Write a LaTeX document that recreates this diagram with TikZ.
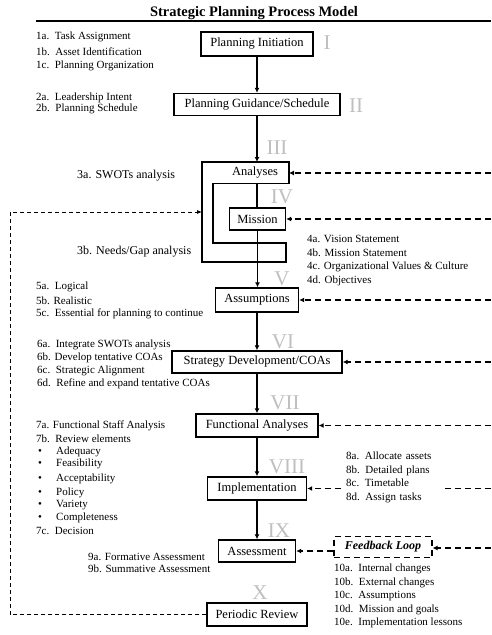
\documentclass[tikz,border=0pt]{standalone}
\usepackage{fontspec}
\setmainfont{Liberation Serif}
\usetikzlibrary{arrows.meta}
\begin{document}
\begin{tikzpicture}[x=1pt,y=-1pt,
 box/.style={draw,line width=1.4pt,minimum height=23pt,inner sep=0pt,font=\fontsize{12.5}{14}\selectfont},
 lst/.style={anchor=west,inner sep=0pt,font=\fontsize{11}{13}\selectfont},
 lstb/.style={anchor=west,inner sep=0pt,font=\fontsize{12}{14}\selectfont},
 roman/.style={text=black!25,font=\fontsize{21}{21}\selectfont,inner sep=0pt},
 arr/.style={line width=1.4pt,-{Latex[length=5pt,width=5pt]}},
 fbarr/.style={line width=1.2pt,dash pattern=on 6pt off 4pt,-{Latex[length=5pt,width=5pt]}},
 loopline/.style={line width=0.8pt,dash pattern=on 4pt off 3pt,-{Latex[length=5pt,width=4pt]}}]
\useasboundingbox (0,0) rectangle (491,635);

% title
\node[font=\fontsize{14.5}{16}\selectfont\bfseries] (title) at (254,13) {Strategic Planning Process Model};
\draw[line width=1.2pt] (36,21) -- (491,21);

% boxes
\node[box,minimum width=112pt,minimum height=24pt] (pi) at (257,44) {Planning Initiation};
\node[box,minimum width=166pt,minimum height=22pt] (pg) at (257,104.5) {Planning Guidance/Schedule};
\node[font=\fontsize{12.5}{14}\selectfont,inner sep=0pt] (ana) at (255,173) {Analyses};
\coordinate (anaN) at (257,162);
\coordinate (anaS) at (257,183.5);
\coordinate (anaE) at (289,173);
\coordinate (anaW) at (202,212);
\draw[line width=1.4pt] (202,162) -- (289,162) -- (289,183.5) -- (213,183.5) -- (213,243) -- (286,243) -- (286,262) -- (202,262) -- cycle;
\node[box,minimum width=56pt,minimum height=22pt] (mis) at (257.5,219) {Mission};
\node[box,minimum width=83pt,minimum height=24pt] (asm) at (257,300) {Assumptions};
\node[box,minimum width=170pt,minimum height=22pt] (sd) at (257,362) {Strategy Development/COAs};
\node[box,minimum width=122pt] (fa) at (257,425.5) {Functional Analyses};
\node[box,minimum width=99pt] (imp) at (257,488.5) {Implementation};
\node[box,minimum width=77pt,minimum height=22pt] (ass) at (257,551) {Assessment};
\node[box,minimum width=100pt] (pr) at (257,614.5) {Periodic Review};
\node[draw,line width=1.2pt,dash pattern=on 6pt off 4pt,minimum width=98pt,minimum height=21pt,inner sep=0pt,
  font=\fontsize{12}{14}\selectfont\bfseries\itshape] (fb) at (383,547) {Feedback Loop};

% main flow
\draw[arr] (pi.south) -- (pg.north);
\draw[arr] (pg.south) -- (anaN);
\draw[line width=1.4pt] (anaS) -- (anaS |- mis.north);
\draw[arr] (mis.south) -- (mis.south |- asm.north);
\draw[arr] (asm.south) -- (sd.north);
\draw[arr] (sd.south) -- (fa.north);
\draw[arr] (fa.south) -- (imp.north);
\draw[arr] (imp.south) -- (ass.north);

% right feedback arrows
\coordinate (r1) at (491,173);
\coordinate (r2) at (491,219);
\coordinate (r3) at (491,300);
\coordinate (r4) at (491,362);
\coordinate (r5) at (491,425.5);
\coordinate (r6) at (491,488.5);
\coordinate (r7) at (491,548);
\draw[fbarr] (r1) -- (anaE);
\draw[fbarr] (r2) -- (mis.east);
\draw[fbarr] (r3) -- (asm.east);
\draw[fbarr] (r4) -- (sd.east);
\draw[fbarr] (r5) -- (fa.east);
\draw[fbarr] (r6) -- (imp.east);
\draw[fbarr] (r7) -- (r7 -| fb.east);
\draw[fbarr] (fb.west |- ass.east) -- (ass.east);

% left return loop
\coordinate (lc1) at (10,614.5);
\coordinate (lc2) at (10,212);
\draw[loopline] (pr.west) -- (lc1) -- (lc2) -- (anaW);

% roman numerals
\node[roman] (n1) at (327,43) {I};
\node[roman] (n2) at (356,106) {II};
\node[roman] (n3) at (277,148) {III};
\node[roman] (n4) at (282,197) {IV};
\node[roman] (n5) at (282,279) {V};
\node[roman] (n6) at (283,342) {VI};
\node[roman] (n7) at (285,403) {VII};
\node[roman] (n8) at (287,467) {VIII};
\node[roman] (n9) at (279,531) {IX};
\node[roman] (n10) at (260,593) {X};

% lists
\node[lst] (t1a) at (36,37) {1a.~~Task Assignment};
\node[lst] (t1b) at (36,52) {1b.~~Asset Identification};
\node[lst] (t1c) at (36,66) {1c.~~Planning Organization};
\node[lst] (t2a) at (36,98) {2a.~~Leadership Intent};
\node[lst] (t2b) at (36,109) {2b.~~Planning Schedule};
\node[lstb] (t3a) at (77,176) {3a. SWOTs analysis};
\node[lstb] (t3b) at (77,252) {3b. Needs/Gap analysis};
\node[lst] (t4a) at (307,239) {4a. Vision Statement};
\node[lst] (t4b) at (307,253) {4b. Mission Statement};
\node[lst] (t4c) at (307,267) {4c. Organizational Values \& Culture};
\node[lst] (t4d) at (307,281) {4d. Objectives};
\node[lst] (t5a) at (36,287) {5a.~~Logical};
\node[lst] (t5b) at (36,301) {5b. Realistic};
\node[lst] (t5c) at (36,314) {5c.~~Essential for planning to continue};
\node[lst] (t6a) at (37,345) {6a.~~Integrate SWOTs analysis};
\node[lst] (t6b) at (37,358) {6b. Develop tentative COAs};
\node[lst] (t6c) at (37,371) {6c.~~Strategic Alignment};
\node[lst] (t6d) at (37,384) {6d.~~Refine and expand tentative COAs};
\node[lst] (t7a) at (36,426) {7a. Functional Staff Analysis};
\node[lst] (t7b) at (36,439) {7b.~~Review elements};
\node[lst] (b1) at (38,452) {\textbullet};
\node[lst] (b2) at (38,464) {\textbullet};
\node[lst] (b3) at (38,479) {\textbullet};
\node[lst] (b4) at (38,493) {\textbullet};
\node[lst] (b5) at (38,505) {\textbullet};
\node[lst] (b6) at (38,518) {\textbullet};
\node[lst] (e1) at (56,452) {Adequacy};
\node[lst] (e2) at (56,464) {Feasibility};
\node[lst] (e3) at (56,479) {Acceptability};
\node[lst] (e4) at (56,493) {Policy};
\node[lst] (e5) at (56,505) {Variety};
\node[lst] (e6) at (56,518) {Completeness};
\node[lst] (t7c) at (36,531) {7c.~~Decision};
\node[lst,align=left,fill=white,inner xsep=2pt,text width=94pt,font=\fontsize{11}{13.7}\selectfont] (t8) at (344,477.5)
  {8a. Allocate assets\\8b. Detailed plans\\8c. Timetable\\8d. Assign tasks};
\node[lst] (t9a) at (88,557) {9a. Formative Assessment};
\node[lst] (t9b) at (88,569) {9b. Summative Assessment};
\node[lst] (t10a) at (334,569) {10a.~~Internal changes};
\node[lst] (t10b) at (334,583) {10b.~~External changes};
\node[lst] (t10c) at (334,596) {10c.~~Assumptions};
\node[lst] (t10d) at (334,610) {10d.~~Mission and goals};
\node[lst] (t10e) at (334,623) {10e.~~Implementation lessons};
\end{tikzpicture}
\end{document}
